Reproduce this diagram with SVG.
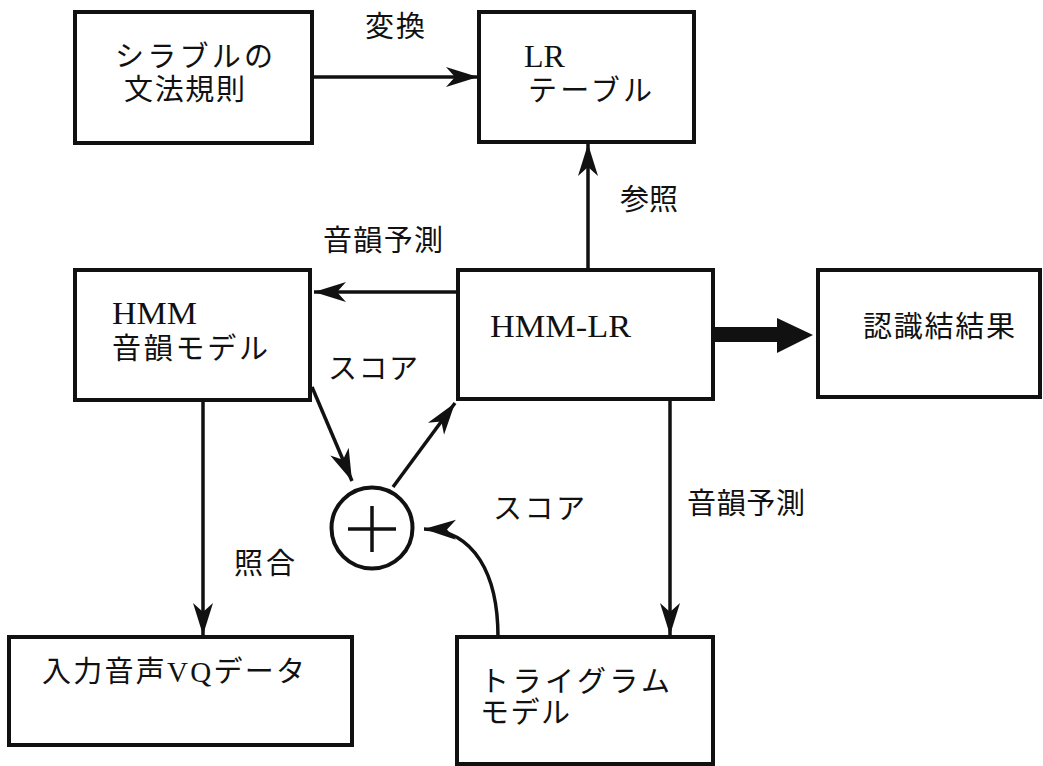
<svg xmlns="http://www.w3.org/2000/svg" width="1043" height="766" viewBox="0 0 1043 766">
<style>
.box{fill:#fff;stroke:#111;stroke-width:4}
.ln{fill:none;stroke:#111;stroke-width:3.5}
.t{font-family:"Liberation Serif","Noto Sans CJK JP",serif;font-size:29px;fill:#111}
.lat{font-family:"Liberation Serif","Noto Sans CJK JP",serif;font-size:32px;fill:#111}
</style>
<defs>
<marker id="ah" markerUnits="userSpaceOnUse" markerWidth="34" markerHeight="24" refX="32" refY="12" orient="auto">
<path d="M0,2 L32,12 L0,22 L9,12 Z" fill="#111"/>
</marker>
</defs>
<rect width="1043" height="766" fill="#fff"/>
<g id="connectors">
<line class="ln" x1="312" y1="77" x2="478" y2="77" marker-end="url(#ah)"/>
<line class="ln" x1="588" y1="270" x2="588" y2="144" marker-end="url(#ah)"/>
<line class="ln" x1="458" y1="292" x2="314" y2="292" marker-end="url(#ah)"/>
<line class="ln" x1="312" y1="387" x2="352" y2="481" marker-end="url(#ah)"/>
<line class="ln" x1="393" y1="487" x2="455" y2="403" marker-end="url(#ah)"/>
<line class="ln" x1="203" y1="400" x2="203" y2="635" marker-end="url(#ah)"/>
<line class="ln" x1="670" y1="399" x2="670" y2="635" marker-end="url(#ah)"/>
<path class="ln" d="M498,637 C498,575 475,530 424,529" marker-end="url(#ah)"/>
<path d="M713,327 H777 V318 L813,335 L777,353 V342 H713 Z" fill="#111"/>
</g>
<g id="syllable-grammar">
<rect class="box" x="75" y="12" width="237" height="131"/>
<text class="t" x="115" y="67" textLength="158" lengthAdjust="spacing">シラブルの</text>
<text class="t" x="124" y="100" textLength="121" lengthAdjust="spacing">文法規則</text>
</g>
<g id="lr-table">
<rect class="box" x="479" y="12" width="215" height="130"/>
<text class="lat" x="524" y="67">LR</text>
<text class="t" x="528" y="101" textLength="124" lengthAdjust="spacing">テーブル</text>
</g>
<g id="hmm-model">
<rect class="box" x="75" y="270" width="235" height="130"/>
<text class="lat" x="112" y="324" textLength="85" lengthAdjust="spacingAndGlyphs">HMM</text>
<text class="t" x="112" y="359" textLength="156" lengthAdjust="spacing">音韻モデル</text>
</g>
<g id="hmm-lr">
<rect class="box" x="458" y="270" width="255" height="129"/>
<text class="lat" x="490" y="337" textLength="141" lengthAdjust="spacingAndGlyphs">HMM-LR</text>
</g>
<g id="result">
<rect class="box" x="818" y="270" width="222" height="127"/>
<text class="t" x="863" y="337" textLength="152" lengthAdjust="spacing">認識結結果</text>
</g>
<g id="adder">
<circle cx="372" cy="528" r="40.5" fill="#fff" stroke="#111" stroke-width="4"/>
<line class="ln" x1="348" y1="529" x2="396" y2="529" stroke-width="4"/>
<line class="ln" x1="372" y1="506" x2="372" y2="552" stroke-width="4"/>
</g>
<g id="vq-data">
<rect class="box" x="9" y="637" width="343" height="108"/>
<text class="t" x="42" y="682" textLength="263" lengthAdjust="spacing">入力音声VQデータ</text>
</g>
<g id="trigram">
<rect class="box" x="457" y="637" width="256" height="127"/>
<text class="t" x="480" y="692" textLength="190" lengthAdjust="spacing">トライグラム</text>
<text class="t" x="480" y="723" textLength="90" lengthAdjust="spacing">モデル</text>
</g>
<g id="labels">
<text class="t" x="365" y="37" textLength="60" lengthAdjust="spacing">変換</text>
<text class="t" x="620" y="210" textLength="58" lengthAdjust="spacing">参照</text>
<text class="t" x="323" y="251" textLength="120" lengthAdjust="spacing">音韻予測</text>
<text class="t" x="328" y="379" textLength="90" lengthAdjust="spacing">スコア</text>
<text class="t" x="493" y="519" textLength="92" lengthAdjust="spacing">スコア</text>
<text class="t" x="687" y="514" textLength="118" lengthAdjust="spacing">音韻予測</text>
<text class="t" x="234" y="574" textLength="61" lengthAdjust="spacing">照合</text>
</g>
</svg>
